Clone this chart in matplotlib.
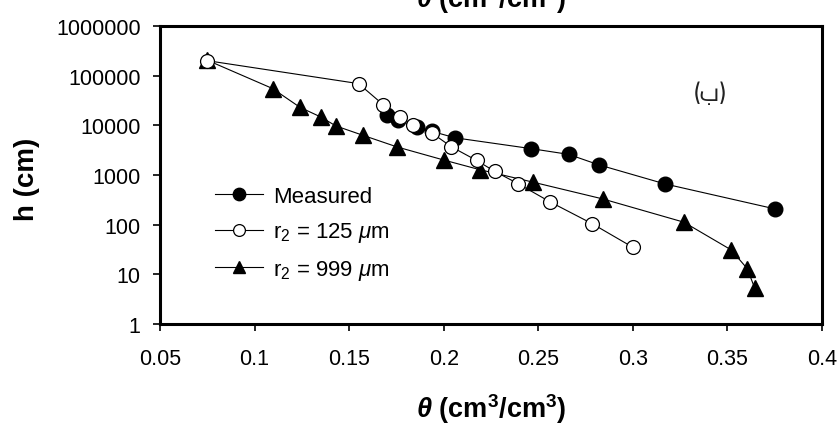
import matplotlib
matplotlib.use("Agg")
import matplotlib.pyplot as plt
from matplotlib.ticker import FixedLocator, FixedFormatter, NullLocator

plt.rcParams['font.family'] = ['Liberation Sans', 'DejaVu Sans']
plt.rcParams['mathtext.fontset'] = 'custom'
plt.rcParams['mathtext.rm'] = 'Liberation Sans'
plt.rcParams['mathtext.it'] = 'Liberation Sans:italic'
plt.rcParams['mathtext.bf'] = 'Liberation Sans:bold'
plt.rcParams['mathtext.bfit'] = 'Liberation Sans:italic:bold'

# measured retention data
theta_measured = [0.170, 0.176, 0.186, 0.194, 0.206, 0.246, 0.266, 0.282, 0.317, 0.375]
h_measured = [15800, 12600, 9300, 7500, 5600, 3400, 2600, 1600, 660, 208]

# model, r2 = 125 um
theta_r125 = [0.075, 0.155, 0.168, 0.177, 0.184, 0.194, 0.204, 0.2174, 0.227, 0.2394, 0.2564, 0.2786, 0.300]
h_r125 = [200000, 69000, 26000, 15000, 10000, 6900, 3700, 1960, 1180, 665, 285, 104, 35]

# model, r2 = 999 um
theta_r999 = [0.075, 0.1095, 0.124, 0.135, 0.143, 0.1575, 0.1755, 0.200, 0.219, 0.247, 0.284, 0.327, 0.352, 0.3605, 0.3645]
h_r999 = [204000, 55000, 23000, 14700, 9700, 6250, 3650, 2000, 1280, 720, 330, 112, 31, 13, 5.2]

x_ticks = [0.05, 0.1, 0.15, 0.2, 0.25, 0.3, 0.35, 0.4]
x_tick_labels = ["0.05", "0.1", "0.15", "0.2", "0.25", "0.3", "0.35", "0.4"]
y_ticks = [1, 10, 100, 1000, 10000, 100000, 1000000]
y_tick_labels = ["1", "10", "100", "1000", "10000", "100000", "1000000"]

theta_label = r'$\mathbfit{\theta}$ (cm$^{\mathbf{3}}$/cm$^{\mathbf{3}}$)'

fig = plt.figure(figsize=(8.39, 4.27), dpi=100)
ax = fig.add_axes([0.1907, 0.2389, 0.789, 0.698])

ax.plot(theta_measured, h_measured, color='black', lw=0.8, marker='o', ms=10.5,
        mfc='black', mec='black', label='Measured', zorder=3)
ax.plot(theta_r125, h_r125, color='black', lw=0.8, marker='o', ms=10,
        mfc='white', mec='black', mew=0.9, label=r'r$_2$ = 125 $\mu$m', zorder=4)
ax.plot(theta_r999, h_r999, color='black', lw=0.8, marker='^', ms=11,
        mfc='black', mec='black', label=r'r$_2$ = 999 $\mu$m', zorder=2)

ax.set_yscale('log')
ax.set_xlim(0.05, 0.4)
ax.set_ylim(1, 1000000)
ax.xaxis.set_major_locator(FixedLocator(x_ticks))
ax.xaxis.set_major_formatter(FixedFormatter(x_tick_labels))
ax.yaxis.set_major_locator(FixedLocator(y_ticks))
ax.yaxis.set_major_formatter(FixedFormatter(y_tick_labels))
ax.yaxis.set_minor_locator(NullLocator())
ax.tick_params(direction='out', length=5, width=1.2, labelsize=15.5)
ax.tick_params(axis='x', pad=12)
ax.tick_params(axis='y', pad=9)

for sp in ax.spines.values():
    sp.set_linewidth(2.2)

ax.set_xlabel(theta_label, fontsize=19.5, fontweight='bold', va='baseline')
ax.xaxis.set_label_coords(0.5, -0.312)
ax.set_ylabel('h (cm)', fontsize=20, fontweight='bold')
ax.yaxis.set_label_coords(-0.181, 0.49)

# panel letter (Arabic "b")
ax.text(0.831, 0.772, '(ب)', transform=ax.transAxes, fontsize=18,
        family=['Cairo', 'Amiri', 'Alexandria', 'DejaVu Sans'],
        ha='center', va='center', fontweight='light', color='#222222')

# clipped duplicate label at the top edge
fig.text(0.585, 0.981, theta_label, fontsize=19.5, fontweight='bold',
         ha='center', va='baseline')

ax.legend(loc='center left', bbox_to_anchor=(0.0695, 0.302), frameon=False,
          fontsize=16, handlelength=2.15, handletextpad=0.45, labelspacing=0.62,
          borderaxespad=0, markerscale=0.85)

fig.savefig('out.png', dpi=100)
